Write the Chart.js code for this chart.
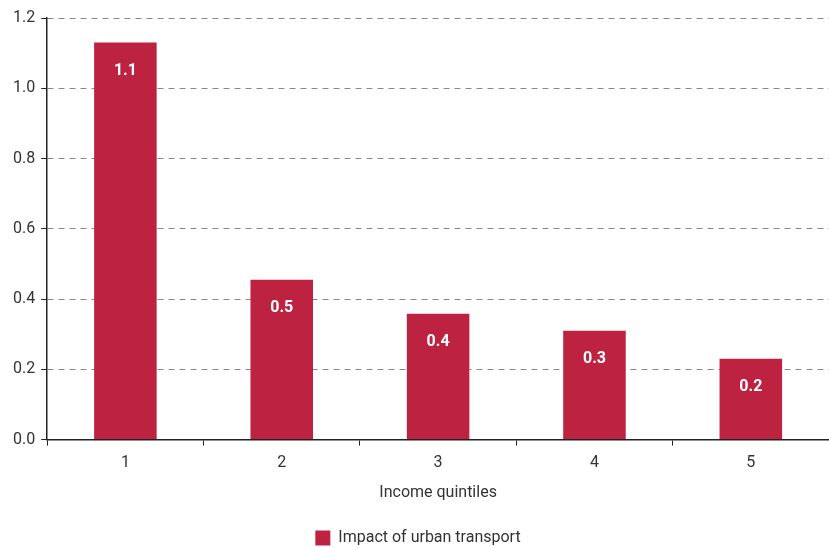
<!DOCTYPE html>
<html>
<head>
<meta charset="utf-8">
<script src="https://cdn.jsdelivr.net/npm/chart.js@4"></script>
<style>
  html, body { margin: 0; padding: 0; background: #fff; }
</style>
</head>
<body>
<canvas id="myChart" width="829" height="548"></canvas>
<script>
const categories = ['1', '2', '3', '4', '5'];
const impactValues = [1.13, 0.455, 0.358, 0.31, 0.23];
const seriesName = 'Impact of urban transport';
const axisTitle = 'Income quintiles';

const FONT = "'Liberation Sans Narrow', 'Arial Narrow', 'Roboto', sans-serif";
const barColor = '#BD2340';

// white value labels just inside the top of each bar
const valueLabels = {
  id: 'valueLabels',
  afterDatasetsDraw(chart) {
    const ctx = chart.ctx;
    const meta = chart.getDatasetMeta(0);
    ctx.save();
    ctx.fillStyle = '#fff';
    ctx.font = 'bold 16px ' + FONT;
    ctx.textAlign = 'center';
    ctx.textBaseline = 'middle';
    meta.data.forEach((bar, i) => {
      ctx.fillText(impactValues[i].toFixed(1), bar.x, bar.y + 28);
    });
    ctx.restore();
  }
};

const ctx = document.getElementById('myChart');

new Chart(ctx, {
  type: 'bar',
  data: {
    labels: categories,
    datasets: [{
      label: seriesName,
      data: impactValues,
      backgroundColor: barColor,
      borderWidth: 0,
      barPercentage: 0.4,
      categoryPercentage: 1.0
    }]
  },
  options: {
    responsive: false,
    animation: false,
    layout: { padding: { top: 18, right: 0, left: 7, bottom: -8 } },
    plugins: {
      legend: {
        position: 'bottom',
        labels: {
          font: { family: FONT, size: 16 },
          color: '#333',
          boxWidth: 15,
          boxHeight: 15,
          padding: 4
        }
      },
      tooltip: { enabled: false }
    },
    scales: {
      x: {
        grid: {
          drawOnChartArea: false,
          tickLength: 6,
          tickColor: '#222',
          offset: true
        },
        border: { color: '#222', width: 1.5 },
        ticks: {
          font: { family: FONT, size: 16 },
          color: '#333',
          padding: 8
        },
        title: {
          display: true,
          text: axisTitle,
          font: { family: FONT, size: 16 },
          color: '#333',
          padding: { top: 3, bottom: 23 }
        }
      },
      y: {
        min: 0,
        max: 1.2,
        ticks: {
          stepSize: 0.2,
          font: { family: FONT, size: 16 },
          color: '#333',
          padding: 6,
          callback: v => v.toFixed(1)
        },
        grid: {
          color: c => (c.tick && c.tick.value === 0 ? 'rgba(0,0,0,0)' : '#888'),
          tickColor: '#222',
          tickLength: 6
        },
        border: { color: '#222', width: 1.5, dash: [6, 5] }
      }
    }
  },
  plugins: [valueLabels]
});
</script>
</body>
</html>
